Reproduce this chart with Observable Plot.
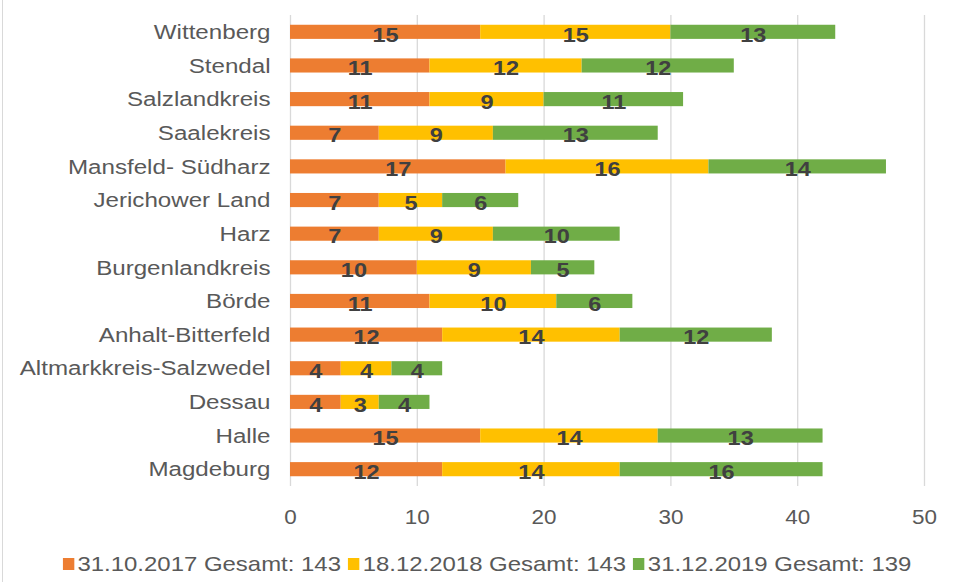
<!DOCTYPE html>
<html>
<head>
<meta charset="utf-8">
<script src="https://cdn.jsdelivr.net/npm/d3@7"></script>
<script src="https://cdn.jsdelivr.net/npm/@observablehq/plot@0.6"></script>
<style>
  html, body { margin: 0; padding: 0; background: #fff; }
  #wrap { position: relative; width: 954px; height: 582px; font-family: "Liberation Sans", Arial, sans-serif; }
  #border { position: absolute; left: 2px; top: 0; width: 1px; height: 582px; background: #d9d9d9; }
  #legend { position: absolute; left: 10px; width: 954px; top: 552px; display: flex; justify-content: center; align-items: center; font-size: 21px; color: #595959; white-space: nowrap; transform: scaleX(1.14); transform-origin: 477px 50%; }
  .item { display: flex; align-items: center; margin: 0 3px; }
  .sw { width: 10px; height: 12px; margin-right: 3px; display: inline-block; }
</style>
</head>
<body>
<div id="wrap"><div id="border"></div><div id="chart"></div><div id="legend"></div></div>
<script>
const categories = ["Wittenberg", "Stendal", "Salzlandkreis", "Saalekreis", "Mansfeld- Südharz", "Jerichower Land", "Harz", "Burgenlandkreis", "Börde", "Anhalt-Bitterfeld", "Altmarkkreis-Salzwedel", "Dessau", "Halle", "Magdeburg"];
const seriesNames = ["31.10.2017 Gesamt: 143", "18.12.2018 Gesamt: 143", "31.12.2019 Gesamt: 139"];
const values2017 = [15, 11, 11, 7, 17, 7, 7, 10, 11, 12, 4, 4, 15, 12];
const values2018 = [15, 12, 9, 9, 16, 5, 9, 9, 10, 14, 4, 3, 14, 14];
const values2019 = [13, 12, 11, 13, 14, 6, 10, 5, 6, 12, 4, 4, 13, 16];
const colors = ["#ED7D31", "#FFC000", "#70AD47"];
const xTicks = [0, 10, 20, 30, 40, 50];

const allValues = [values2017, values2018, values2019];
const data = [];
seriesNames.forEach((s, si) => categories.forEach((c, ci) => data.push({name: c, series: s, value: allValues[si][ci]})));

const chart = Plot.plot({
  width: 954,
  height: 535,
  marginLeft: 290,
  marginRight: 30,
  marginTop: 15,
  marginBottom: 49,
  style: {fontFamily: "'Liberation Sans', Arial, sans-serif", background: "white"},
  x: {domain: [0, 50], ticks: xTicks, label: null},
  y: {domain: categories, label: null, paddingInner: 0.58, paddingOuter: 0.29, round: false},
  color: {domain: seriesNames, range: colors},
  marks: [
    Plot.ruleX(xTicks, {stroke: "#d9d9d9", strokeWidth: 1.3}),
    Plot.barX(data, Plot.stackX({x: "value", y: "name", fill: "series", z: "series"})),
    Plot.text(data, Plot.stackX({x: "value", y: "name", z: "series", text: "value", fill: "#404040", fontWeight: "bold", fontSize: 21, dy: 2.5})),
    Plot.axisX({ticks: xTicks, tickSize: 0, tickPadding: 23, fontSize: 21, color: "#595959", label: null}),
    Plot.axisY({tickSize: 0, tickPadding: 20, fontSize: 21, color: "#595959", label: null})
  ]
});
document.getElementById("chart").appendChild(chart);

// slight horizontal stretch of text, as in the reference rendering
function stretch(selector, f) {
  chart.querySelectorAll(selector).forEach(t => {
    const tr = t.getAttribute("transform");
    if (tr) t.setAttribute("transform", tr + ` scale(${f},1)`);
  });
}
stretch('g[aria-label="y-axis tick label"] text', 1.15);
stretch('g[aria-label="x-axis tick label"] text', 1.07);
stretch('g[aria-label="text"] text', 1.12);

const legend = document.getElementById("legend");
seriesNames.forEach((s, i) => {
  const it = document.createElement("span");
  it.className = "item";
  const sw = document.createElement("span");
  sw.className = "sw";
  sw.style.background = colors[i];
  it.appendChild(sw);
  it.appendChild(document.createTextNode(s));
  legend.appendChild(it);
});
</script>
</body>
</html>
